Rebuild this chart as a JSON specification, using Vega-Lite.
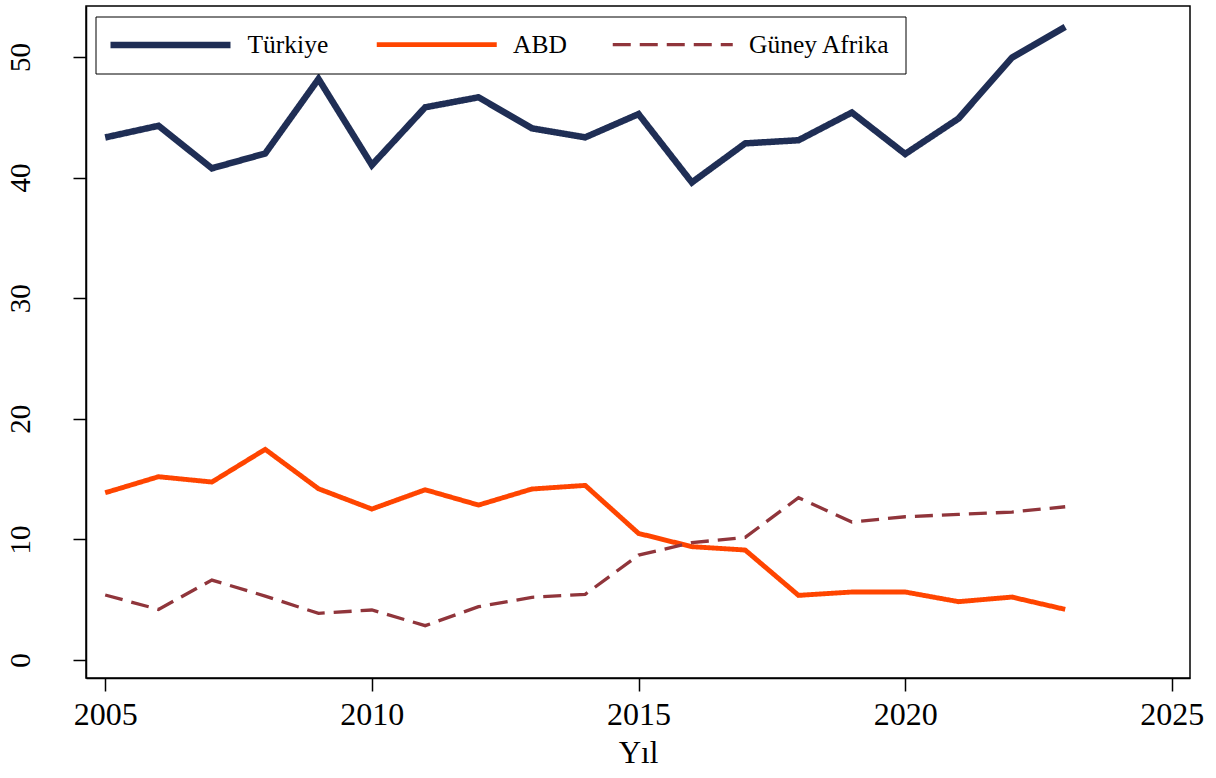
{
  "$schema": "https://vega.github.io/schema/vega-lite/v6.json",
  "autosize": "none",
  "width": 1104,
  "height": 672,
  "padding": {"left": 86, "top": 6, "right": 26, "bottom": 100},
  "background": "white",
  "config": {"view": {"stroke": "black", "strokeWidth": 1.5}, "font": "Liberation Serif"},
  "data": {"values": [
    {"yil": 2005, "ulke": "Türkiye", "deger": 43.33},
    {"yil": 2006, "ulke": "Türkiye", "deger": 44.3},
    {"yil": 2007, "ulke": "Türkiye", "deger": 40.77},
    {"yil": 2008, "ulke": "Türkiye", "deger": 42.0},
    {"yil": 2009, "ulke": "Türkiye", "deger": 48.18},
    {"yil": 2010, "ulke": "Türkiye", "deger": 41.04},
    {"yil": 2011, "ulke": "Türkiye", "deger": 45.83},
    {"yil": 2012, "ulke": "Türkiye", "deger": 46.66},
    {"yil": 2013, "ulke": "Türkiye", "deger": 44.09},
    {"yil": 2014, "ulke": "Türkiye", "deger": 43.34},
    {"yil": 2015, "ulke": "Türkiye", "deger": 45.27},
    {"yil": 2016, "ulke": "Türkiye", "deger": 39.6},
    {"yil": 2017, "ulke": "Türkiye", "deger": 42.84},
    {"yil": 2018, "ulke": "Türkiye", "deger": 43.1},
    {"yil": 2019, "ulke": "Türkiye", "deger": 45.4},
    {"yil": 2020, "ulke": "Türkiye", "deger": 41.96},
    {"yil": 2021, "ulke": "Türkiye", "deger": 44.9},
    {"yil": 2022, "ulke": "Türkiye", "deger": 49.94},
    {"yil": 2023, "ulke": "Türkiye", "deger": 52.5},
    {"yil": 2005, "ulke": "ABD", "deger": 13.87},
    {"yil": 2006, "ulke": "ABD", "deger": 15.2},
    {"yil": 2007, "ulke": "ABD", "deger": 14.76},
    {"yil": 2008, "ulke": "ABD", "deger": 17.47},
    {"yil": 2009, "ulke": "ABD", "deger": 14.2},
    {"yil": 2010, "ulke": "ABD", "deger": 12.52},
    {"yil": 2011, "ulke": "ABD", "deger": 14.12},
    {"yil": 2012, "ulke": "ABD", "deger": 12.85},
    {"yil": 2013, "ulke": "ABD", "deger": 14.18},
    {"yil": 2014, "ulke": "ABD", "deger": 14.48},
    {"yil": 2015, "ulke": "ABD", "deger": 10.5},
    {"yil": 2016, "ulke": "ABD", "deger": 9.4},
    {"yil": 2017, "ulke": "ABD", "deger": 9.12},
    {"yil": 2018, "ulke": "ABD", "deger": 5.36},
    {"yil": 2019, "ulke": "ABD", "deger": 5.64},
    {"yil": 2020, "ulke": "ABD", "deger": 5.64},
    {"yil": 2021, "ulke": "ABD", "deger": 4.84},
    {"yil": 2022, "ulke": "ABD", "deger": 5.22},
    {"yil": 2023, "ulke": "ABD", "deger": 4.2},
    {"yil": 2005, "ulke": "Güney Afrika", "deger": 5.39},
    {"yil": 2006, "ulke": "Güney Afrika", "deger": 4.2},
    {"yil": 2007, "ulke": "Güney Afrika", "deger": 6.63},
    {"yil": 2008, "ulke": "Güney Afrika", "deger": 5.3},
    {"yil": 2009, "ulke": "Güney Afrika", "deger": 3.87},
    {"yil": 2010, "ulke": "Güney Afrika", "deger": 4.15},
    {"yil": 2011, "ulke": "Güney Afrika", "deger": 2.85},
    {"yil": 2012, "ulke": "Güney Afrika", "deger": 4.42},
    {"yil": 2013, "ulke": "Güney Afrika", "deger": 5.2},
    {"yil": 2014, "ulke": "Güney Afrika", "deger": 5.45},
    {"yil": 2015, "ulke": "Güney Afrika", "deger": 8.7},
    {"yil": 2016, "ulke": "Güney Afrika", "deger": 9.73},
    {"yil": 2017, "ulke": "Güney Afrika", "deger": 10.17},
    {"yil": 2018, "ulke": "Güney Afrika", "deger": 13.46},
    {"yil": 2019, "ulke": "Güney Afrika", "deger": 11.44},
    {"yil": 2020, "ulke": "Güney Afrika", "deger": 11.88},
    {"yil": 2021, "ulke": "Güney Afrika", "deger": 12.08},
    {"yil": 2022, "ulke": "Güney Afrika", "deger": 12.27},
    {"yil": 2023, "ulke": "Güney Afrika", "deger": 12.71}
  ]},
  "mark": {"type": "line", "clip": true, "strokeJoin": "miter"},
  "encoding": {
    "x": {
      "field": "yil", "type": "quantitative",
      "scale": {"domain": [2004.64, 2025.34], "nice": false, "zero": false},
      "axis": {
        "values": [2005, 2010, 2015, 2020, 2025], "format": "d", "title": "Yıl", "grid": false,
        "domainColor": "black", "domainWidth": 1.5, "tickColor": "black", "tickWidth": 1.5, "tickSize": 13,
        "labelFont": "Liberation Serif", "labelFontSize": 32, "labelColor": "black", "labelPadding": 8, "labelFlush": false,
        "titleFont": "Liberation Serif", "titleFontSize": 31, "titleFontWeight": "normal", "titleColor": "black", "titlePadding": 8
      }
    },
    "y": {
      "field": "deger", "type": "quantitative",
      "scale": {"domain": [-1.49, 54.23], "nice": false, "zero": false},
      "axis": {
        "values": [0, 10, 20, 30, 40, 50], "title": null, "grid": false,
        "domainColor": "black", "domainWidth": 1.5, "tickColor": "black", "tickWidth": 1.5, "tickSize": 13,
        "labelFont": "Liberation Serif", "labelFontSize": 29, "labelColor": "black",
        "labelAngle": -90, "labelAlign": "center", "labelBaseline": "alphabetic", "labelPadding": 44
      }
    },
    "color": {
      "field": "ulke", "type": "nominal",
      "scale": {"domain": ["Türkiye", "ABD", "Güney Afrika"], "range": ["#1f2e55", "#ff4500", "#90353b"]},
      "legend": {
        "orient": "none", "legendX": 9.5, "legendY": 10.5, "direction": "horizontal", "title": null,
        "symbolType": "M-6,0H6", "symbolSize": 400, "symbolOffset": 46.5, "labelOffset": 63.5,
        "labelFont": "Liberation Serif", "labelFontSize": 25.5, "labelColor": "black",
        "columnPadding": 38, "padding": 15, "strokeColor": "black", "fillColor": "white"
      }
    },
    "strokeDash": {
      "field": "ulke", "type": "nominal",
      "scale": {"domain": ["Türkiye", "ABD", "Güney Afrika"], "range": [[1, 0], [1, 0], [18, 9]]},
      "legend": {
        "orient": "none", "legendX": 9.5, "legendY": 10.5, "direction": "horizontal", "title": null,
        "symbolType": "M-6,0H6", "symbolSize": 400, "symbolOffset": 46.5, "labelOffset": 63.5,
        "labelFont": "Liberation Serif", "labelFontSize": 25.5, "labelColor": "black",
        "columnPadding": 38, "padding": 15, "strokeColor": "black", "fillColor": "white"
      }
    },
    "strokeWidth": {
      "field": "ulke", "type": "ordinal",
      "scale": {"domain": ["Türkiye", "ABD", "Güney Afrika"], "range": [6.5, 3.3, 3.6]},
      "legend": {
        "orient": "none", "legendX": 9.5, "legendY": 10.5, "direction": "horizontal", "title": null,
        "symbolType": "M-6,0H6", "symbolSize": 400, "symbolOffset": 46.5, "labelOffset": 63.5,
        "labelFont": "Liberation Serif", "labelFontSize": 25.5, "labelColor": "black",
        "columnPadding": 38, "padding": 15, "strokeColor": "black", "fillColor": "white"
      }
    }
  }
}
